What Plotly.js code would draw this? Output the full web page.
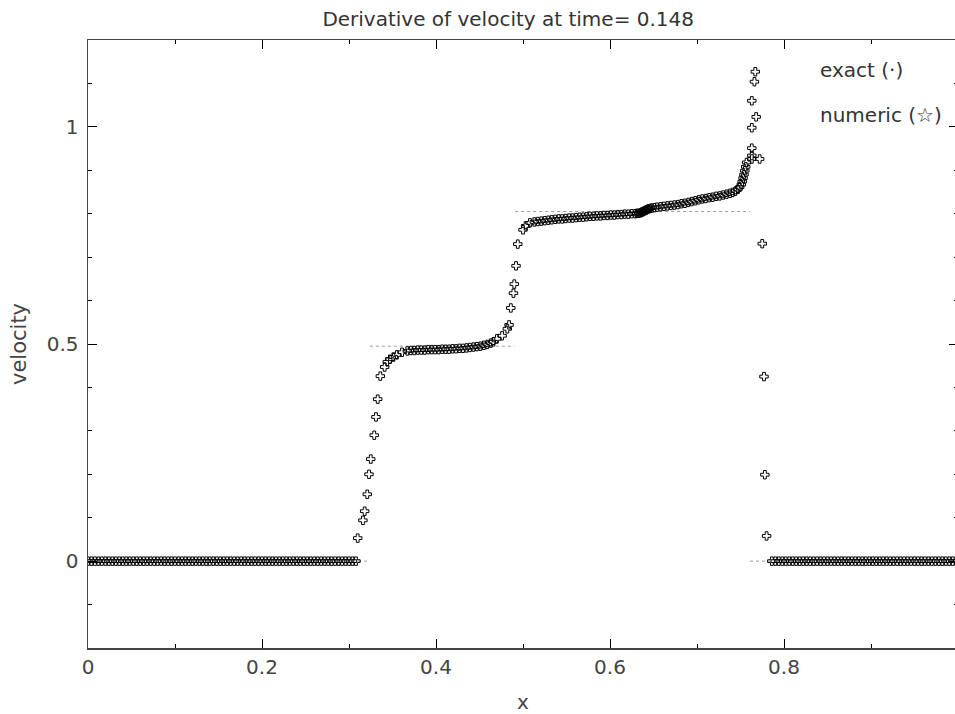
<!DOCTYPE html>
<html>
<head>
<meta charset="utf-8">
<script src="https://cdn.plot.ly/plotly-3.0.1.min.js"></script>
<style>html,body{margin:0;padding:0;overflow:hidden;background:#fff;}</style>
</head>
<body>
<div id="chart"></div>
<script>
// numeric solution: left zero region
const xZeroLeft = [0.000,0.004,0.008,0.012,0.016,0.020,0.024,0.028,0.032,0.036,0.040,0.044,0.048,0.052,0.056,0.060,0.064,0.068,0.072,0.076,0.080,0.084,0.088,0.092,0.096,0.100,0.104,0.108,0.112,0.116,0.120,0.124,0.128,0.132,0.136,0.140,0.144,0.148,0.152,0.156,0.160,0.164,0.168,0.172,0.176,0.180,0.184,0.188,0.192,0.196,0.200,0.204,0.208,0.212,0.216,0.220,0.224,0.228,0.232,0.236,0.240,0.244,0.248,0.252,0.256,0.260,0.264,0.268,0.272,0.276,0.280,0.284,0.288,0.292,0.296,0.300,0.304,0.308];
const vZeroLeft = [0,0,0,0,0,0,0,0,0,0,0,0,0,0,0,0,0,0,0,0,0,0,0,0,0,0,0,0,0,0,0,0,0,0,0,0,0,0,0,0,0,0,0,0,0,0,0,0,0,0,0,0,0,0,0,0,0,0,0,0,0,0,0,0,0,0,0,0,0,0,0,0,0,0,0,0,0,0];
// first rise and first plateau
const xRise1 = [0.310,0.316,0.318,0.321,0.323,0.325,0.329,0.331,0.333,0.336,0.341,0.344,0.347,0.351,0.355,0.361,0.367];
const vRise1 = [0.053,0.094,0.115,0.154,0.200,0.235,0.290,0.332,0.373,0.426,0.447,0.459,0.465,0.470,0.475,0.481,0.484];
const xPlat1 = [0.371,0.375,0.379,0.383,0.387,0.391,0.395,0.399,0.403,0.407,0.411,0.415,0.419,0.423,0.427,0.431,0.435,0.439,0.443,0.447,0.451,0.455,0.459,0.463,0.466];
const vPlat1 = [0.485,0.485,0.486,0.486,0.486,0.487,0.487,0.487,0.487,0.488,0.488,0.488,0.489,0.489,0.490,0.490,0.491,0.492,0.493,0.494,0.495,0.497,0.499,0.502,0.505];
// second rise and second plateau
const xRise2 = [0.470,0.476,0.482,0.484,0.486,0.489,0.490,0.492,0.494,0.500,0.503,0.508,0.513];
const vRise2 = [0.512,0.519,0.535,0.544,0.583,0.617,0.638,0.680,0.730,0.763,0.772,0.779,0.781];
const xPlat2 = [0.517,0.521,0.525,0.529,0.533,0.537,0.541,0.545,0.549,0.553,0.557,0.561,0.565,0.569,0.573,0.577,0.581,0.585,0.589,0.593,0.597,0.601,0.605,0.609,0.613,0.617,0.621,0.625,0.629,
  0.631,0.633,0.635,0.636,0.637,0.638,0.639,0.640,0.641,0.642,0.643,0.644,0.646,0.648,0.651,0.654,
  0.658,0.662,0.666,0.670,0.674,0.678,0.682,0.686,0.690,0.694,0.698,0.702,0.706,0.710,0.714,0.718,0.722,0.726,0.730,0.734,0.738,0.741,0.744,0.747,0.749,0.751,0.752,0.753,0.754,0.755,0.756,0.757];
const vPlat2 = [0.782,0.783,0.784,0.785,0.786,0.787,0.788,0.788,0.789,0.790,0.790,0.791,0.792,0.792,0.793,0.794,0.794,0.795,0.795,0.796,0.796,0.797,0.797,0.798,0.798,0.799,0.799,0.800,0.800,
  0.801,0.801,0.802,0.803,0.804,0.805,0.806,0.807,0.808,0.809,0.810,0.811,0.812,0.813,0.814,0.815,
  0.816,0.817,0.818,0.819,0.820,0.821,0.823,0.824,0.826,0.828,0.830,0.832,0.834,0.835,0.837,0.838,0.840,0.841,0.843,0.845,0.847,0.849,0.852,0.856,0.861,0.867,0.874,0.882,0.890,0.899,0.908,0.918];
// spike and drop at the shock
const xSpike = [0.763,0.772,0.763,0.763,0.763,0.768,0.763,0.766,0.767];
const vSpike = [0.926,0.926,0.934,0.951,0.998,1.023,1.060,1.104,1.127];
const xDrop = [0.775,0.777,0.778,0.780];
const vDrop = [0.731,0.425,0.199,0.058];
// right zero region
const xZeroRight = [0.786,0.790,0.794,0.798,0.802,0.806,0.810,0.814,0.818,0.822,0.826,0.830,0.834,0.838,0.842,0.846,0.850,0.854,0.858,0.862,0.866,0.870,0.874,0.878,0.882,0.886,0.890,0.894,0.898,0.902,0.906,0.910,0.914,0.918,0.922,0.926,0.930,0.934,0.938,0.942,0.946,0.950,0.954,0.958,0.962,0.966,0.970,0.974,0.978,0.982,0.986,0.990,0.994,0.998];
const vZeroRight = [0,0,0,0,0,0,0,0,0,0,0,0,0,0,0,0,0,0,0,0,0,0,0,0,0,0,0,0,0,0,0,0,0,0,0,0,0,0,0,0,0,0,0,0,0,0,0,0,0,0,0,0,0,0];
// exact solution (piecewise constant)
const xExact = [0.0,0.324,null,0.324,0.490,null,0.491,0.761,null,0.761,1.0];
const vExact = [0,0,null,0.495,0.495,null,0.805,0.805,null,0,0];

const titleText = 'Derivative of velocity at time= 0.148';
const xTickVals = [0,0.2,0.4,0.6,0.8];
const xTickText = ['0','0.2','0.4','0.6','0.8'];
const yTickVals = [0,0.5,1];
const yTickText = ['0','0.5','1'];

const xNum = [].concat(xZeroLeft,xRise1,xPlat1,xRise2,xPlat2,xSpike,xDrop,xZeroRight);
const vNum = [].concat(vZeroLeft,vRise1,vPlat1,vRise2,vPlat2,vSpike,vDrop,vZeroRight);

const FONT = 'DejaVu Sans, sans-serif';
const traces = [
  {x: xExact, y: vExact, mode: 'lines', line: {color: '#9a9a9a', width: 1, dash: 'dot'}, hoverinfo: 'skip', connectgaps: false},
  {x: xNum, y: vNum, mode: 'markers', marker: {symbol: 'cross-open', size: 7, color: '#000', line: {color: '#000', width: 1}}}
];

const axisCommon = {
  showgrid: false, zeroline: false, showline: true, linecolor: '#444', linewidth: 1.5,
  mirror: 'ticks', ticks: 'inside', ticklen: 9, tickwidth: 1, tickcolor: '#000',
  tickfont: {family: FONT, size: 20, color: '#444'}
};

const layout = {
  width: 962, height: 714,
  margin: {l: 88, r: 4, t: 40, b: 66},
  paper_bgcolor: '#fff', plot_bgcolor: '#fff',
  showlegend: false,
  title: {text: titleText, font: {family: FONT, size: 20, color: '#333'}, xref: 'paper', x: 0.483, xanchor: 'center', yref: 'container', y: 0.974, yanchor: 'middle'},
  xaxis: Object.assign({}, axisCommon, {
    range: [0, 1], tickmode: 'array', tickvals: xTickVals, ticktext: xTickText,
    minor: {tickvals: [0.1,0.3,0.5,0.7,0.9], ticks: 'inside', ticklen: 4, tickwidth: 1, tickcolor: '#000'},
    title: {text: 'x', font: {family: FONT, size: 20, color: '#444'}, standoff: 22}
  }),
  yaxis: Object.assign({}, axisCommon, {
    range: [-0.2, 1.2], tickmode: 'array', tickvals: yTickVals, ticktext: yTickText,
    minor: {tickvals: [-0.1,0.1,0.2,0.3,0.4,0.6,0.7,0.8,0.9,1.1], ticks: 'inside', ticklen: 4, tickwidth: 1, tickcolor: '#000'},
    ticklabelstandoff: 4,
    title: {text: 'velocity', font: {family: FONT, size: 21, color: '#444'}, standoff: 14}
  }),
  annotations: [
    {text: 'exact (·)', xref: 'paper', yref: 'paper', x: 0.839, y: 0.951, xanchor: 'left', yanchor: 'middle', showarrow: false, font: {family: FONT, size: 20, color: '#333'}},
    {text: 'numeric (☆)', xref: 'paper', yref: 'paper', x: 0.839, y: 0.877, xanchor: 'left', yanchor: 'middle', showarrow: false, font: {family: FONT, size: 20, color: '#333'}}
  ]
};

Plotly.newPlot('chart', traces, layout, {displayModeBar: false, staticPlot: true});
</script>
</body>
</html>
